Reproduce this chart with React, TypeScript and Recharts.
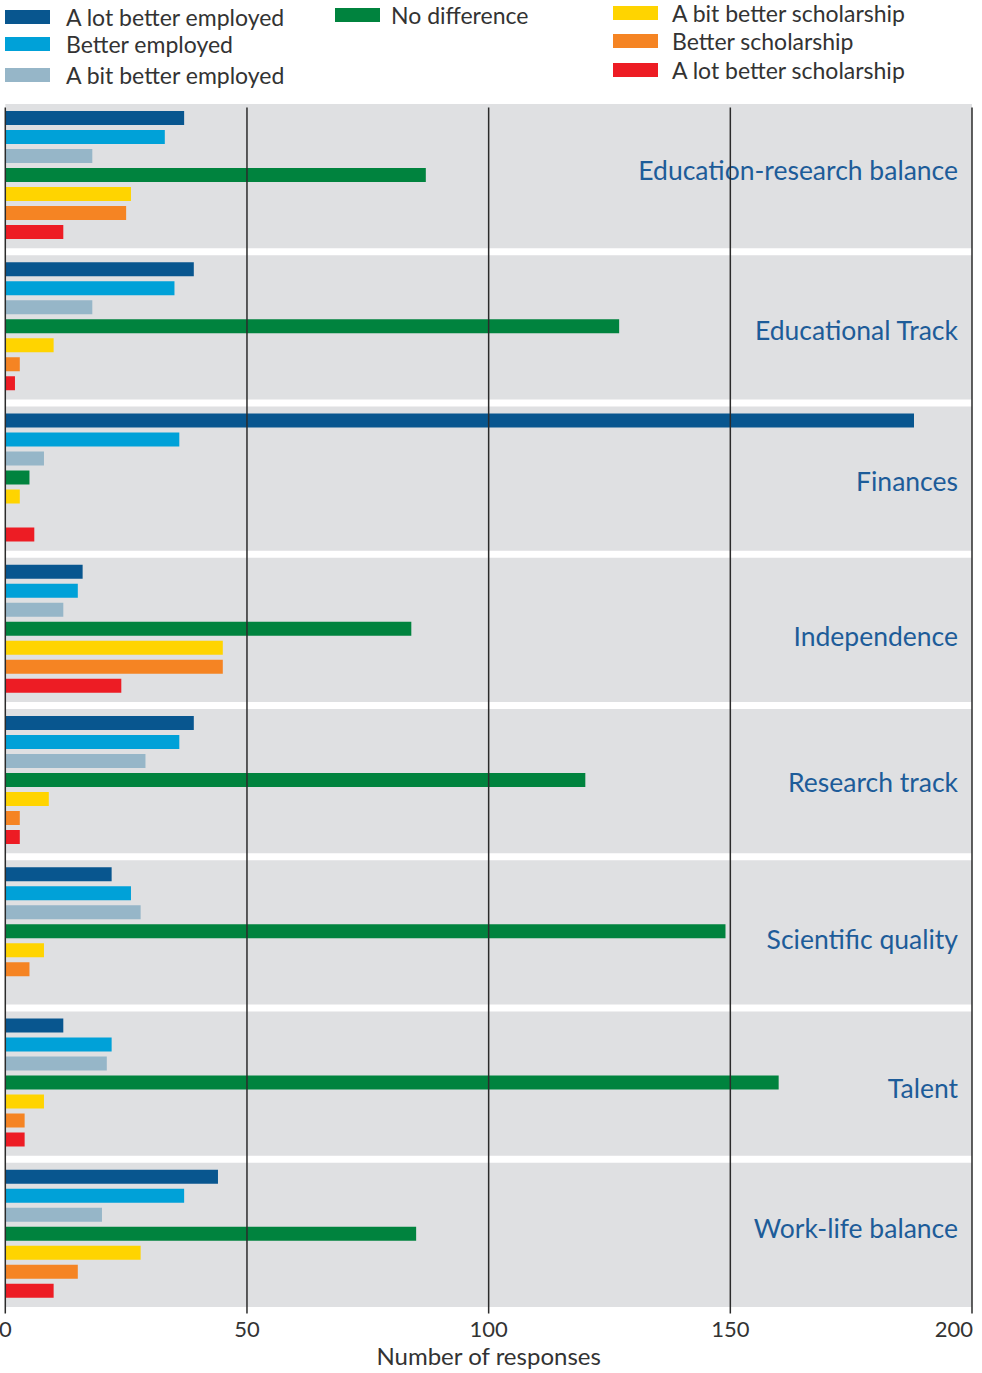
import React from "react";
import { BarChart, Bar, XAxis, YAxis, ReferenceArea, ReferenceLine } from "recharts";

const categories = [
  "Education-research balance",
  "Educational Track",
  "Finances",
  "Independence",
  "Research track",
  "Scientific quality",
  "Talent",
  "Work-life balance",
];

const seriesNames = [
  "A lot better employed",
  "Better employed",
  "A bit better employed",
  "No difference",
  "A bit better scholarship",
  "Better scholarship",
  "A lot better scholarship",
];
const seriesColors = ["#08568f", "#00a1d8", "#96b6c8", "#00833e", "#ffd400", "#f58423", "#ed1c24"];

const aLotBetterEmployed = [37, 39, 188, 16, 39, 22, 12, 44];
const betterEmployed = [33, 35, 36, 15, 36, 26, 22, 37];
const aBitBetterEmployed = [18, 18, 8, 12, 29, 28, 21, 20];
const noDifference = [87, 127, 5, 84, 120, 149, 160, 85];
const aBitBetterScholarship = [26, 10, 3, 45, 9, 8, 8, 28];
const betterScholarship = [25, 3, 0, 45, 3, 5, 4, 15];
const aLotBetterScholarship = [12, 2, 6, 24, 3, 0, 4, 10];

const xTicks = [0, 50, 100, 150, 200];

const seriesValues = [
  aLotBetterEmployed,
  betterEmployed,
  aBitBetterEmployed,
  noDifference,
  aBitBetterScholarship,
  betterScholarship,
  aLotBetterScholarship,
];

const data = categories.map((category, i) => {
  const row: Record<string, string | number> = { category };
  seriesValues.forEach((vals, s) => {
    row[`s${s}`] = vals[i];
  });
  return row;
});

const FONT = "Lato, 'Open Sans', sans-serif";
const TEXT = "#333333";
const LABEL_BLUE = "#1d5c99";

// legend slot positions: [swatch left, text left, row center y]
const legendSlots = [
  [5, 66, 17],
  [5, 66, 44],
  [5, 66, 75],
  [335, 391, 15],
  [613, 672, 13],
  [613, 672, 41],
  [613, 672, 70],
];

// small vertical nudges of the category names, as in the original layout
const labelNudge = [-5, 3, 3, 7, 2, 7, 5, -6];

const BandShape = (p: any) => (
  <rect x={p.x} y={p.y + 3.5} width={p.width} height={p.height - 7} fill="#dfe0e2" />
);

const GridShape = (p: any) => {
  const top = Math.min(p.y1, p.y2);
  const bottom = Math.max(p.y1, p.y2);
  return <line x1={p.x1} x2={p.x2} y1={top + 7} y2={bottom + 3} stroke="#2b2b2b" strokeWidth={1.5} />;
};

const XTick = (p: any) => {
  const last = p.index === xTicks.length - 1;
  return (
    <text
      x={last ? p.x + 1 : p.x}
      y={p.y}
      dy="0.71em"
      textAnchor={last ? "end" : "middle"}
      fill={TEXT}
      fontSize={22}
      fontFamily={FONT}
    >
      {p.payload.value}
    </text>
  );
};

const makeCategoryLabel = (name: string, i: number) => (p: any) => {
  const vb = p.viewBox;
  return (
    <text
      x={vb.x + vb.width - 14}
      y={vb.y + vb.height / 2 + labelNudge[i]}
      dy="0.35em"
      textAnchor="end"
      fill={LABEL_BLUE}
      fontSize={26.5}
      fontFamily={FONT}
    >
      {name}
    </text>
  );
};

export default function App() {
  return (
    <div style={{ position: "absolute", left: 0, top: 0, width: 982, height: 1373, fontFamily: FONT, background: "#fff" }}>
      {seriesNames.map((name, i) => {
        const [sx, tx, cy] = legendSlots[i];
        return (
          <div key={name}>
            <div style={{ position: "absolute", left: sx, top: cy - 7, width: 45, height: 14, background: seriesColors[i] }} />
            <div style={{ position: "absolute", left: tx, top: cy - 13, height: 26, lineHeight: "26px", fontSize: 23, color: TEXT, whiteSpace: "nowrap" }}>
              {name}
            </div>
          </div>
        );
      })}
      <div style={{ position: "absolute", left: 0, top: 0 }}>
        <BarChart
          width={982}
          height={1373}
          data={data}
          layout="vertical"
          margin={{ top: 100.5, right: 10, bottom: 0, left: 5.3 }}
          barCategoryGap={10.5}
          barGap={5}
        >
          <XAxis
            type="number"
            domain={[0, 200]}
            ticks={xTicks}
            axisLine={false}
            tickLine={false}
            tickSize={6}
            tickMargin={5}
            height={62.5}
            interval={0}
            tick={XTick}
            label={{ value: "Number of responses", position: "insideBottom", offset: 8, fill: TEXT, fontSize: 24, fontFamily: FONT }}
          />
          <YAxis type="category" dataKey="category" hide />
          {categories.map((c, i) => (
            <ReferenceArea key={c} y1={c} y2={c} shape={BandShape} label={makeCategoryLabel(c, i)} />
          ))}
          {seriesNames.map((name, i) => (
            <Bar key={name} dataKey={`s${i}`} name={name} fill={seriesColors[i]} isAnimationActive={false} />
          ))}
          {xTicks.map((t) => (
            <ReferenceLine key={t} x={t} shape={GridShape} />
          ))}
        </BarChart>
      </div>
    </div>
  );
}
